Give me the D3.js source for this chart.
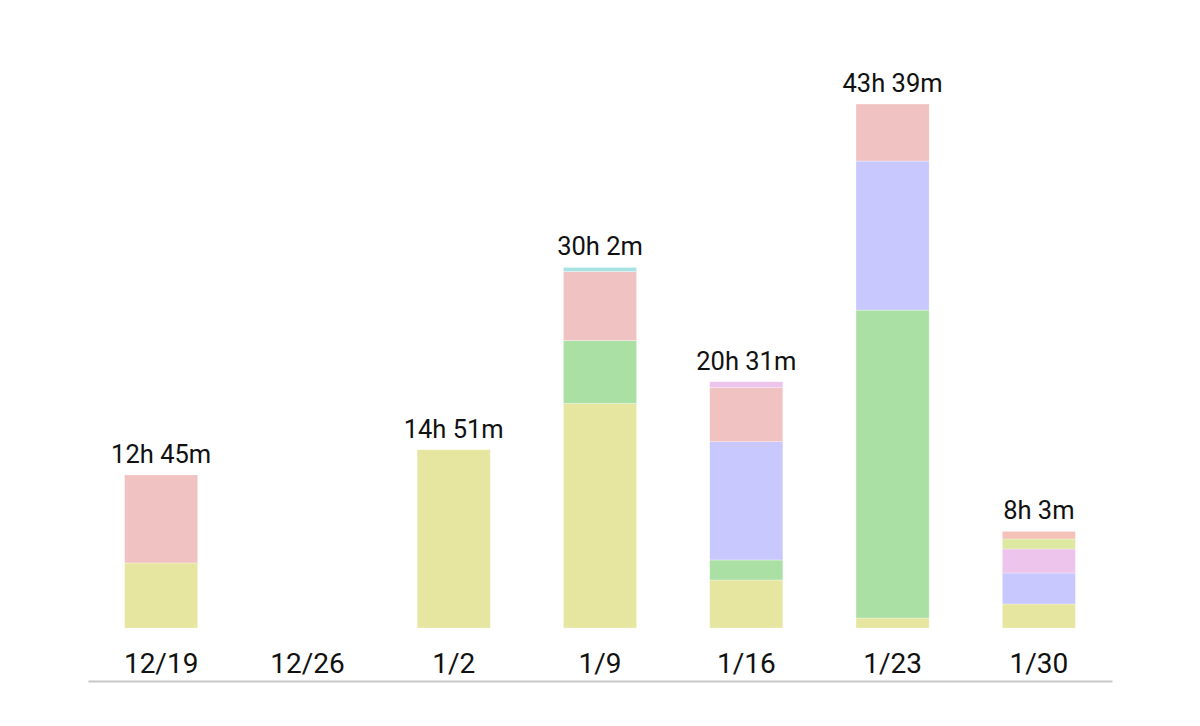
<!DOCTYPE html>
<head>
<meta charset="utf-8">
<style>
  body {
    margin:0;
    background:#fff;
  }
  .total {
    font-family:Roboto, sans-serif;
    font-size:25.5px;
    fill:#111;
  }
  .tick text {
    font-family:Roboto, sans-serif;
    font-size:28px;
    fill:#111;
  }
</style>
</head>
<body>
<script src="https://cdnjs.cloudflare.com/ajax/libs/d3/7.8.5/d3.min.js"></script>
<script>

var width = 1200,
    height = 726;

// weeks and minutes per category
var weeks = ["12/19", "12/26", "1/2", "1/9", "1/16", "1/23", "1/30"];

var yellow = [325, 0, 891, 1122, 240, 50, 120];
var green  = [0, 0, 0, 315, 100, 1539, 0];
var blue   = [0, 0, 0, 0, 591, 745, 155];
var pink   = [0, 0, 0, 0, 30, 0, 120];
var red    = [440, 0, 0, 345, 270, 285, 0];
var lime   = [0, 0, 0, 0, 0, 0, 50];
var red2   = [0, 0, 0, 0, 0, 0, 38];
var cyan   = [0, 0, 0, 20, 0, 0, 0];

var colors = {
  yellow:"#e6e6a0", green:"#abe0a5", blue:"#c8c8fe", pink:"#ecc4ec",
  red:"#f1c2c2", lime:"#dde8a0", red2:"#f5c2b8", cyan:"#a8e2e2"
};

var series = {yellow:yellow, green:green, blue:blue, pink:pink, red:red, lime:lime, red2:red2, cyan:cyan};
// stacking order differs per week (bottom to top)
var orders = [
  ["yellow","red"],
  [],
  ["yellow"],
  ["yellow","green","red","cyan"],
  ["yellow","green","blue","red","pink"],
  ["yellow","green","blue","red"],
  ["yellow","blue","pink","lime","red2"]
];

var rows = weeks.map(function(w, i) {
  var y0 = 0;
  var segs = orders[i].map(function(k) {
    var s = {week:w, key:k, y0:y0, y1:y0 + series[k][i]};
    y0 = s.y1;
    return s;
  });
  return {week:w, total:y0, segs:segs};
});

var x = d3.scaleBand()
    .domain(weeks)
    .range([88, 1112])
    .paddingInner(0.5)
    .paddingOuter(0.25);

var maxTotal = d3.max(rows, function(d) { return d.total; });
var y = d3.scaleLinear()
    .domain([0, maxTotal])
    .range([628, 104]);

var svg = d3.select("body").append("svg")
    .attr("width", width)
    .attr("height", height);

svg.selectAll(".bar")
    .data(rows)
  .enter().append("g")
    .attr("class","bar")
  .selectAll("rect")
    .data(function(d) { return d.segs; })
  .enter().append("rect")
    .attr("x", function(d) { return x(d.week); })
    .attr("width", x.bandwidth())
    .attr("y", function(d) { return y(d.y1); })
    .attr("height", function(d) { return y(d.y0) - y(d.y1); })
    .style("fill", function(d) { return colors[d.key]; })
    .style("stroke", "rgba(255,255,255,0.6)")
    .style("stroke-width", 0.5);

function fmt(m) {
  return Math.floor(m / 60) + "h " + (m % 60) + "m";
}

svg.selectAll(".total")
    .data(rows.filter(function(d) { return d.total > 0; }))
  .enter().append("text")
    .attr("class","total")
    .attr("x", function(d) { return x(d.week) + x.bandwidth() / 2; })
    .attr("y", function(d) { return y(d.total) - 12; })
    .attr("text-anchor","middle")
    .text(function(d) { return fmt(d.total); });

var axis = svg.append("g")
    .attr("transform","translate(0,681)")
    .call(d3.axisBottom(x).tickSize(0).tickPadding(0));

axis.select(".domain")
    .attr("stroke","#c8c8c8")
    .attr("stroke-width",2);

axis.selectAll(".tick text")
    .attr("dy", null)
    .attr("y", -8);

</script>
</body>
